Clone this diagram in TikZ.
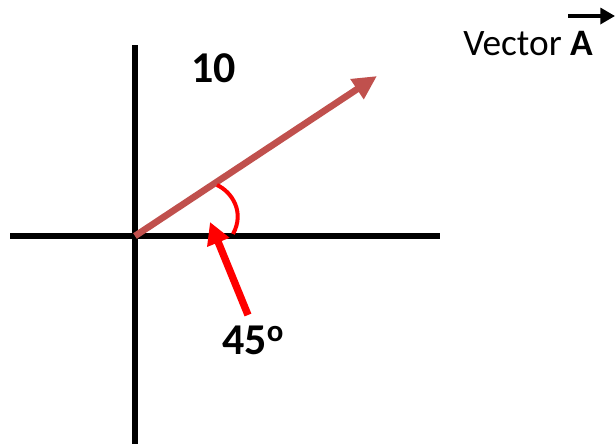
\documentclass[tikz,border=0pt]{standalone}
\usepackage{fontspec}
\setmainfont{Carlito}
\usetikzlibrary{arrows.meta}
\definecolor{vecred}{RGB}{192,80,77}

\begin{document}
\begin{tikzpicture}[x=0.75pt, y=-0.75pt, every node/.style={inner sep=0pt, anchor=base west}, axis/.style={line width=5pt}]
	\useasboundingbox (0,0) rectangle (615,444);
	\coordinate (o) at (135,236); \coordinate (xl) at (10,236); \coordinate (xr) at (440,236); \coordinate (yt) at (135,45); \coordinate (yb) at (135,444);
	\coordinate (tip) at (377,76); \coordinate (as) at (217,185); \coordinate (ae) at (233,234); \coordinate (pt) at (248,315); \coordinate (pe) at (210,222);
	\foreach \p/\q in {xl/xr, yt/yb} {\draw[axis] (\p) -- (\q);}
	\draw[vecred, line width=5pt, -{Triangle[length=18pt, width=17pt]}] (o) -- (tip);
	\draw[red, line width=3pt] (as) .. controls (232,192) and (245,212) .. (ae);
	\draw[red, line width=5.5pt, -{Triangle[length=16.5pt, width=17pt]}] (pt) -- (pe);
	\node[font=\fontsize{33}{36}\selectfont\bfseries] (mag) at (191,82) {10};
	\node[font=\fontsize{33}{36}\selectfont\bfseries] (ang) at (222,354) {45\textsuperscript{o}};
	\node[font=\fontsize{28}{32}\selectfont] (vlab) at (463,55) {Vector \textbf{A}};
	\coordinate (va) at (568,16); \coordinate (vb) at (615,16);
	\draw[line width=2.5pt, -{Triangle[length=11pt, width=12pt]}] (va) -- (vb);
\end{tikzpicture}
\end{document}
